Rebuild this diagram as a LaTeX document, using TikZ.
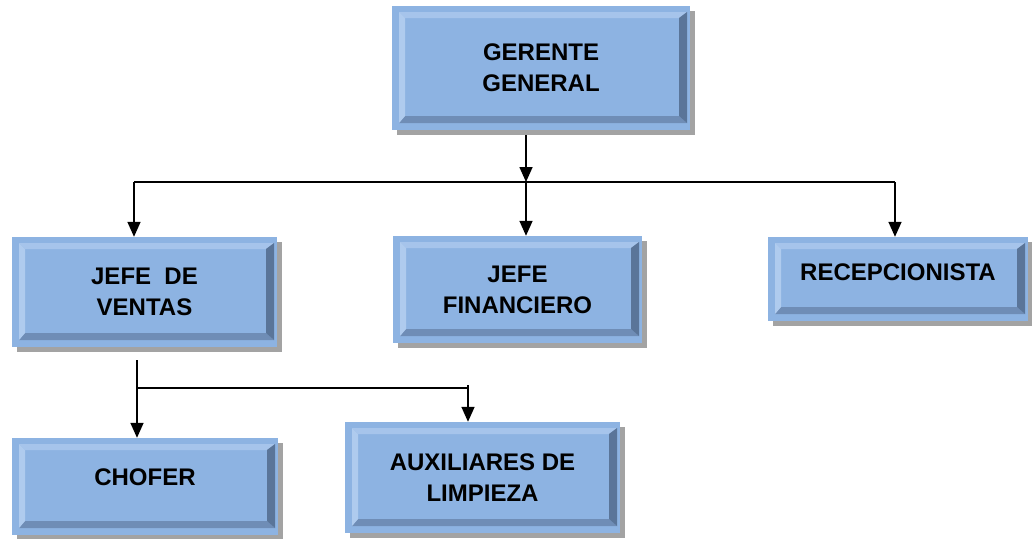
\documentclass[tikz,border=0pt]{standalone}
\usepackage{fontspec}
\setmainfont{Liberation Sans}
\usetikzlibrary{shadows,arrows.meta}
\definecolor{face}{HTML}{8DB3E2}
\definecolor{bevT}{HTML}{A6C4EB}
\definecolor{bevL}{HTML}{AFCBEE}
\definecolor{bevR}{HTML}{5A7599}
\definecolor{bevB}{HTML}{6F8DB6}
\definecolor{shad}{HTML}{A3A3A3}
\tikzset{
  boxfont/.style={font=\fontsize{24}{31}\selectfont\bfseries, align=center},
  bev/.style={draw=none, fill=face, inner sep=0pt, boxfont,
    drop shadow={shadow xshift=5pt, shadow yshift=-5pt, fill=shad, opacity=1},
    path picture={
      \def\pb{path picture bounding box}
      \coordinate (OTL) at ([shift={(7pt,-6pt)}]\pb.north west);
      \coordinate (OTR) at ([shift={(-3pt,-6pt)}]\pb.north east);
      \coordinate (OBR) at ([shift={(-3pt,7pt)}]\pb.south east);
      \coordinate (OBL) at ([shift={(7pt,7pt)}]\pb.south west);
      \coordinate (ITL) at ([shift={(13pt,-12pt)}]\pb.north west);
      \coordinate (ITR) at ([shift={(-11pt,-12pt)}]\pb.north east);
      \coordinate (IBR) at ([shift={(-11pt,14pt)}]\pb.south east);
      \coordinate (IBL) at ([shift={(13pt,14pt)}]\pb.south west);
      \fill[bevT] (OTL) -- (OTR) -- (ITR) -- (ITL) -- cycle;
      \fill[bevB] (OBL) -- (OBR) -- (IBR) -- (IBL) -- cycle;
      \fill[bevL] (OTL) -- (ITL) -- (IBL) -- (OBL) -- cycle;
      \fill[bevR] (OTR) -- (ITR) -- (IBR) -- (OBR) -- cycle;
    }},
  conn/.style={line width=1.6pt, draw=black},
  arr/.style={conn, -{Triangle[width=13pt,length=15pt]}},
}
\begin{document}
\begin{tikzpicture}[x=1pt,y=-1pt]
\useasboundingbox (0,0) rectangle (1032,538);
\node[bev, minimum width=298pt, minimum height=124pt] (g) at (541,68) {GERENTE\\GENERAL};
\node[bev, minimum width=265pt, minimum height=110pt] (v) at (144.5,292) {JEFE\ \ DE\\VENTAS};
\node[bev, minimum width=249pt, minimum height=107pt] (f) at (517.5,289.5) {JEFE\\FINANCIERO};
\node[bev, minimum width=260pt, minimum height=84pt] (r) at (898,279) {};
\node[boxfont] (rt) at (898,272) {RECEPCIONISTA};
\node[bev, minimum width=266pt, minimum height=97pt] (c) at (145,486.5) {};
\node[boxfont] (ct) at (145,477) {CHOFER};
\node[bev, minimum width=275pt, minimum height=111pt] (a) at (482.5,477.5) {AUXILIARES DE\\LIMPIEZA};
% level 1 connectors
\coordinate (jm) at (526,182);
\coordinate (jl) at (134,182);
\coordinate (jr) at (895,182);
\draw[conn] (jl) -- (jr);
\draw[arr] ([yshift=-5pt]jm |- g.south) -- (jm);
\draw[arr] (jm) -- (jm |- f.north);
\draw[arr] (jl) -- (jl |- v.north);
\draw[arr] (jr) -- (jr |- r.north);
% level 2 connectors
\coordinate (kv) at (137,388);
\coordinate (ka) at (468,388);
\draw[conn] (kv) -- (ka);
\draw[arr] ([yshift=-13pt]kv |- v.south) -- (kv |- c.north);
\draw[arr] ([yshift=3pt]ka) -- (ka |- a.north);
\end{tikzpicture}
\end{document}
